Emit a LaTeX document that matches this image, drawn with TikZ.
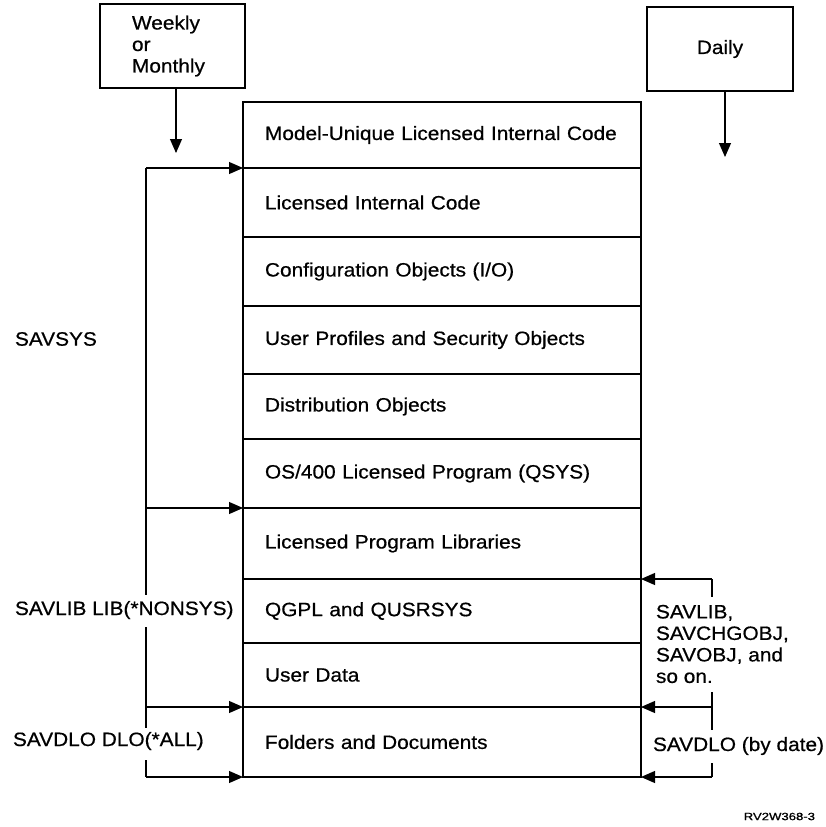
\documentclass[tikz,border=0pt]{standalone}
\usepackage{fontspec}
\setmainfont{Liberation Sans}[FakeStretch=1.08,FakeBold=0.6]
\newfontfamily\tagfont{Liberation Sans}[FakeStretch=1.25,FakeBold=1.2]
\usetikzlibrary{arrows.meta}

\begin{document}
\begin{tikzpicture}[x=1pt,y=-1pt,
  every node/.style={font=\fontsize{19.3}{21.5}\selectfont, outer sep=0pt},
  line/.style={line width=1.1pt},
  layer/.style={draw, line width=1.1pt, anchor=north west, text width=354pt,
                inner xsep=22pt, inner ysep=0pt, align=left},
  arr/.style={line width=1.1pt, -{Triangle[length=14pt,width=12pt]}},
  freq/.style={draw, line width=1.1pt, anchor=north west, inner sep=0pt},
  lbl/.style={inner sep=0pt}
]
\useasboundingbox (0,0) rectangle (826,827);

% stack of saved object layers
\node[layer, minimum height=66pt] (r1)  at (243,102)       {Model-Unique Licensed Internal Code};
\node[layer, minimum height=69pt] (r2)  at (r1.south west) {Licensed Internal Code};
\node[layer, minimum height=69pt] (r3)  at (r2.south west) {Configuration Objects (I/O)};
\node[layer, minimum height=68pt] (r4)  at (r3.south west) {User Profiles and Security Objects};
\node[layer, minimum height=65pt] (r5)  at (r4.south west) {Distribution Objects};
\node[layer, minimum height=69pt] (r6)  at (r5.south west) {OS/400 Licensed Program (QSYS)};
\node[layer, minimum height=71pt] (r7)  at (r6.south west) {Licensed Program Libraries};
\node[layer, minimum height=64pt] (r8)  at (r7.south west) {QGPL and QUSRSYS};
\node[layer, minimum height=64pt] (r9)  at (r8.south west) {User Data};
\node[layer, minimum height=70pt] (r10) at (r9.south west) {Folders and Documents};

% frequency boxes
\node[freq, text width=81pt, inner xsep=32pt, minimum height=84pt, align=left]
  (wk) at (100,4) {Weekly\\or\\Monthly};
\node[freq, minimum width=146pt, minimum height=84pt] (dl) at (647,7) {Daily};
\coordinate (wkend) at (176,153);
\coordinate (dlend) at (725,157);
\draw[arr] (wk.south -| wkend) -- (wkend);
\draw[arr] (dl.south -| dlend) -- (dlend);

% left bracket: full-system commands
\coordinate (lx) at (146,0);
\coordinate (lbrk1) at (146,595);
\coordinate (lbrk2) at (146,627);
\coordinate (lbrk3) at (146,728);
\coordinate (lbrk4) at (146,760);
\draw[line] (r2.north west -| lx) -- (lbrk1);
\draw[line] (lbrk2) -- (lbrk3);
\draw[line] (lbrk4) -- (r10.south west -| lx);
\draw[arr] (r2.north west -| lx) -- (r2.north west);
\draw[arr] (r7.north west -| lx) -- (r7.north west);
\draw[arr] (r10.north west -| lx) -- (r10.north west);
\draw[arr] (r10.south west -| lx) -- (r10.south west);

\node[lbl, anchor=west] (savsys) at (15,339) {SAVSYS};
\node[lbl, anchor=west] (savlib) at (15,610) {SAVLIB LIB(*NONSYS)};
\node[lbl, anchor=west] (savdlo) at (13,741) {SAVDLO DLO(*ALL)};

% right bracket: daily commands
\coordinate (rx) at (712,0);
\coordinate (rbrk1) at (712,597);
\coordinate (rbrk2) at (712,692);
\coordinate (rbrk3) at (712,730);
\coordinate (rbrk4) at (712,763);
\draw[line] (r8.north east -| rx) -- (rbrk1);
\draw[line] (rbrk2) -- (rbrk3);
\draw[line] (rbrk4) -- (r10.south east -| rx);
\draw[arr] (r8.north east -| rx) -- (r8.north east);
\draw[arr] (r10.north east -| rx) -- (r10.north east);
\draw[arr] (r10.south east -| rx) -- (r10.south east);

\node[lbl, anchor=west, align=left] (savobj) at (656,644)
  {SAVLIB,\\SAVCHGOBJ,\\SAVOBJ, and\\so on.};
\node[lbl, anchor=west] (savdate) at (653,746) {SAVDLO (by date)};

\node[lbl, anchor=east, font=\tagfont\fontsize{10.5}{12}\selectfont] (tag) at (815,816.5) {RV2W368-3};
\end{tikzpicture}
\end{document}
